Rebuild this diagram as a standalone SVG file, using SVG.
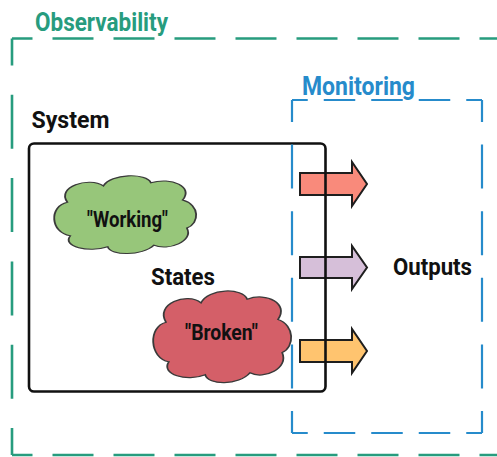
<svg xmlns="http://www.w3.org/2000/svg" width="497" height="457" viewBox="0 0 497 457">
  <defs>
    <path id="cloud" d="M 10 35 C 2 15, 25 2, 35 14 C 40 -2, 65 -3, 68 10 C 82 2, 98 15, 90 32 C 102 38, 102 62, 93 68 C 98 85, 80 98, 70 90 C 62 104, 40 104, 38 92 C 25 100, 6 92, 12 78 C -2 74, -3 40, 10 35 Z"/>
  </defs>
  <style>
    text { font-family: Roboto, "Liberation Sans", sans-serif; font-weight: bold; }
    .obs { stroke: #279c7e; stroke-width: 2.6; fill: none; }
    .mon { stroke: #268bcb; stroke-width: 2.2; fill: none; }
    .obs-h { stroke-dasharray: 41 20; stroke-dashoffset: 20.5; }
    .obs-v { stroke-dasharray: 54 29.3; stroke-dashoffset: 27; }
    .mon-h { stroke-dasharray: 31.5 16; stroke-dashoffset: 15.75; }
    .mon-v { stroke-dasharray: 44 22.6; stroke-dashoffset: 22; }
    .cloud { stroke: #3a3a3a; stroke-width: 1.3; vector-effect: non-scaling-stroke; }
    .arrow { stroke: #1e1e1e; stroke-width: 2; stroke-linejoin: miter; }
    .title { font-size: 25px; }
    .label { font-size: 23px; fill: #111; }
    .state { font-size: 22px; fill: #111; }
  </style>

  <!-- Observability boundary -->
  <g id="observability">
    <line class="obs obs-h" x1="12" y1="38.5" x2="500" y2="38.5"/>
    <line class="obs obs-h" x1="12" y1="455" x2="500" y2="455"/>
    <line class="obs obs-v" x1="12" y1="38.5" x2="12" y2="455"/>
    <text class="title" x="35" y="30.5" fill="#279c7e" textLength="133" lengthAdjust="spacingAndGlyphs">Observability</text>
  </g>

  <!-- Output arrows -->
  <g id="outputs">
    <polygon class="arrow" fill="#f98a7b" points="300,173 352,173 352,162 367,184 352,206 352,195 300,195"/>
    <polygon class="arrow" fill="#d6bfd9" points="300,257 352,257 352,246 367,267.5 352,289 352,278 300,278"/>
    <polygon class="arrow" fill="#ffc46f" points="300,340 352,340 352,329 367,351 352,373 352,362 300,362"/>
    <text class="label" x="393" y="275" textLength="79" lengthAdjust="spacingAndGlyphs">Outputs</text>
  </g>

  <!-- System box -->
  <g id="system">
    <rect x="29" y="143.5" width="296.5" height="248" rx="5" fill="none" stroke="#111" stroke-width="2.6"/>
    <text class="label" x="31.5" y="128" textLength="78" lengthAdjust="spacingAndGlyphs">System</text>
    <text class="label" x="151" y="285" textLength="64" lengthAdjust="spacingAndGlyphs">States</text>
  </g>

  <!-- States -->
  <g id="working">
    <use href="#cloud" class="cloud" fill="#97c67a" transform="translate(53,175) scale(1.44,0.78)"/>
    <text class="state" x="87" y="227" textLength="81" lengthAdjust="spacingAndGlyphs">"Working"</text>
  </g>
  <g id="broken">
    <use href="#cloud" class="cloud" fill="#d45f68" transform="translate(152,290) scale(1.40,0.92)"/>
    <text class="state" x="185" y="340" textLength="73" lengthAdjust="spacingAndGlyphs">"Broken"</text>
  </g>

  <!-- Monitoring boundary -->
  <g id="monitoring">
    <line class="mon mon-h" x1="292" y1="100" x2="482" y2="100"/>
    <line class="mon mon-h" x1="292" y1="433" x2="482" y2="433"/>
    <line class="mon mon-v" x1="292" y1="100" x2="292" y2="433"/>
    <line class="mon mon-v" x1="482" y1="100" x2="482" y2="433"/>
    <text class="title" x="302" y="95" fill="#268bcb" textLength="113" lengthAdjust="spacingAndGlyphs">Monitoring</text>
  </g>
</svg>
